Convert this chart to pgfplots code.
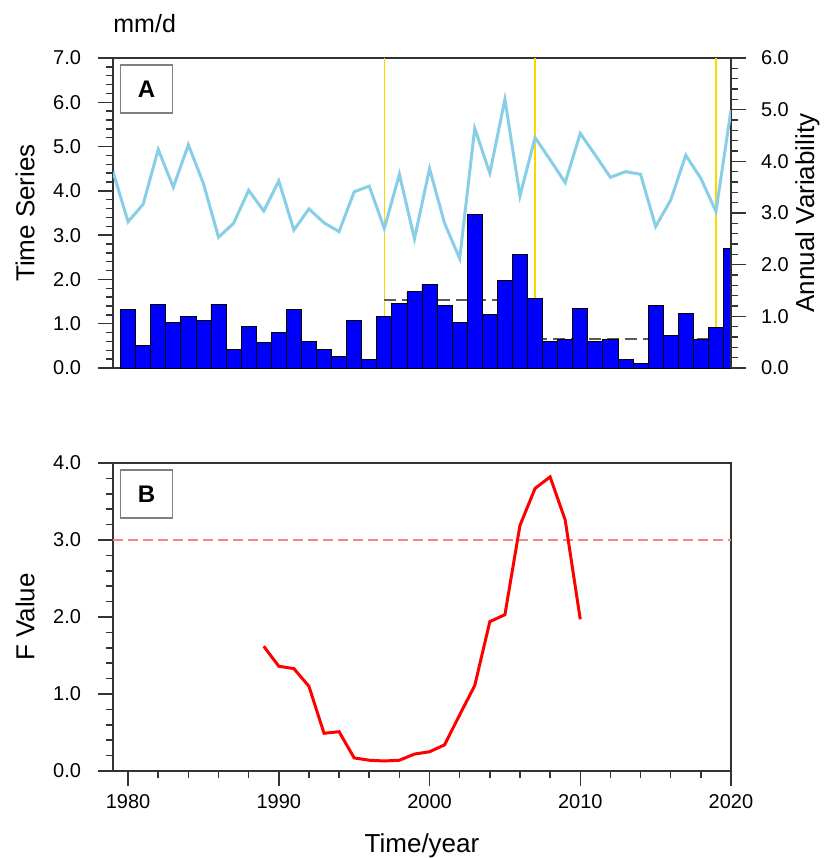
\documentclass[border=0pt]{standalone}
\usepackage{fontspec}
\setmainfont{Liberation Sans}
\usepackage{pgfplots}
\usepackage{pgfplotstable}
\pgfplotsset{compat=1.18}

\definecolor{barblue}{RGB}{0,0,255}
\definecolor{skyline}{RGB}{135,206,230}
\definecolor{goldline}{RGB}{255,215,0}
\definecolor{fdash}{RGB}{255,128,128}
\definecolor{meangray}{RGB}{90,90,90}

% annual series (bars, left axis)
\pgfplotstableread{
year val
1980 1.33
1981 0.50
1982 1.44
1983 1.02
1984 1.16
1985 1.07
1986 1.44
1987 0.41
1988 0.93
1989 0.58
1990 0.81
1991 1.33
1992 0.59
1993 0.41
1994 0.26
1995 1.08
1996 0.20
1997 1.17
1998 1.46
1999 1.72
2000 1.89
2001 1.41
2002 1.02
2003 3.46
2004 1.20
2005 1.97
2006 2.56
2007 1.57
2008 0.60
2009 0.65
2010 1.34
2011 0.60
2012 0.65
2013 0.20
2014 0.11
2015 1.42
2016 0.74
2017 1.23
2018 0.64
2019 0.92
2020 2.69
}\seriestable

% annual variability (line, right axis)
\pgfplotstableread{
year val
1979 3.80
1980 2.83
1981 3.17
1982 4.23
1983 3.50
1984 4.32
1985 3.57
1986 2.53
1987 2.80
1988 3.44
1989 3.04
1990 3.62
1991 2.67
1992 3.08
1993 2.81
1994 2.64
1995 3.41
1996 3.52
1997 2.70
1998 3.75
1999 2.50
2000 3.86
2001 2.80
2002 2.12
2003 4.64
2004 3.77
2005 5.20
2006 3.33
2007 4.46
2008 4.03
2009 3.59
2010 4.54
2011 4.12
2012 3.69
2013 3.80
2014 3.75
2015 2.74
2016 3.25
2017 4.12
2018 3.67
2019 3.03
2020 4.99
}\vartable

% F value
\pgfplotstableread{
year val
1989 1.62
1990 1.36
1991 1.33
1992 1.10
1993 0.49
1994 0.51
1995 0.17
1996 0.14
1997 0.13
1998 0.14
1999 0.22
2000 0.25
2001 0.34
2002 0.73
2003 1.11
2004 1.94
2005 2.03
2006 3.19
2007 3.67
2008 3.82
2009 3.26
2010 1.97
}\ftable

\pgfplotsset{
  panel/.style={
    scale only axis, width=309pt,
    xmin=1979, xmax=2020,
    tick align=outside,
    major tick length=7.5pt, minor tick length=3.5pt,
    axis line style={black!80, line width=0.75pt},
    every tick/.style={black!80, line width=0.75pt},
    tick label style={font=\fontsize{10}{12}\selectfont},
    /pgf/number format/assume math mode=true,
    yticklabel style={/pgf/number format/fixed, /pgf/number format/fixed zerofill,
      /pgf/number format/precision=1},
    xticklabel shift=0.5pt,
  },
  leftlabels/.style={yticklabel style={xshift=-5pt}},
}

\begin{document}
\begin{tikzpicture}
\useasboundingbox (0,0) rectangle (415.5pt,-429pt);

% top panel, left axis
\begin{axis}[panel, leftlabels, at={(56.5pt,-184pt)}, anchor=south west, height=155pt,
  ymin=0, ymax=7, ytick={0,1,...,7}, minor y tick num=4, ytick pos=left,
  xtick=\empty]
  \addplot[goldline, line width=0.7pt] coordinates {(1997,0) (1997,7)};
  \addplot[goldline, line width=0.7pt] coordinates {(2007,0) (2007,7)};
  \addplot[goldline, line width=0.7pt] coordinates {(2019,0) (2019,7)};
  \addplot[meangray, line width=0.9pt, dash pattern=on 6pt off 3pt] coordinates {(1997,1.53) (2007,1.53)};
  \addplot[meangray, line width=0.9pt, dash pattern=on 6pt off 3pt] coordinates {(2007,0.65) (2019,0.65)};
  \addplot[ybar, bar width=1, bar shift=0pt, fill=barblue, draw=black, line width=0.4pt] table[x=year, y=val] {\seriestable};
\end{axis}

% top panel, right axis
\begin{axis}[panel, at={(56.5pt,-184pt)}, anchor=south west, height=155pt,
  ymin=0, ymax=6, ytick={0,1,...,6}, minor y tick num=4,
  axis y line*=right, axis x line=none, yticklabel shift=4pt]
  \addplot[skyline, line width=1.5pt] table[x=year, y=val] {\vartable};
\end{axis}

% bottom panel
\begin{axis}[panel, leftlabels, at={(56.5pt,-385.5pt)}, anchor=south west, height=154pt,
  ymin=0, ymax=4, ytick={0,1,...,4}, minor y tick num=4,
  xtick={1980,1990,...,2020}, minor x tick num=4, tick pos=left,
  xticklabel style={/pgf/number format/1000 sep={}}]
  \addplot[fdash, line width=1pt, dash pattern=on 5pt off 2.5pt] coordinates {(1979,3) (2020,3)};
  \addplot[red, line width=1.5pt] table[x=year, y=val] {\ftable};
\end{axis}

% labels and panel boxes
\node[anchor=west, inner sep=0pt, font=\fontsize{12.5}{14}\selectfont] at (56.5pt,-11.7pt) {mm/d};
\node[rotate=90, font=\fontsize{13}{15}\selectfont] at (12.5pt,-106.5pt) {Time Series};
\node[rotate=90, font=\fontsize{13}{15}\selectfont] at (403.7pt,-106.5pt) {Annual Variability};
\node[rotate=90, font=\fontsize{13}{15}\selectfont] at (12.5pt,-308.5pt) {F Value};
\node[anchor=base, font=\fontsize{13}{15}\selectfont] at (211pt,-426.3pt) {Time/year};
\draw[black!50, line width=0.6pt, fill=white] (60.3pt,-32.5pt) rectangle (86.3pt,-56.5pt);
\node[font=\bfseries\fontsize{12}{14}\selectfont] at (73.3pt,-44.5pt) {A};
\draw[black!50, line width=0.6pt, fill=white] (60.3pt,-235pt) rectangle (86.3pt,-259pt);
\node[font=\bfseries\fontsize{12}{14}\selectfont] at (73.3pt,-247pt) {B};
\end{tikzpicture}
\end{document}
